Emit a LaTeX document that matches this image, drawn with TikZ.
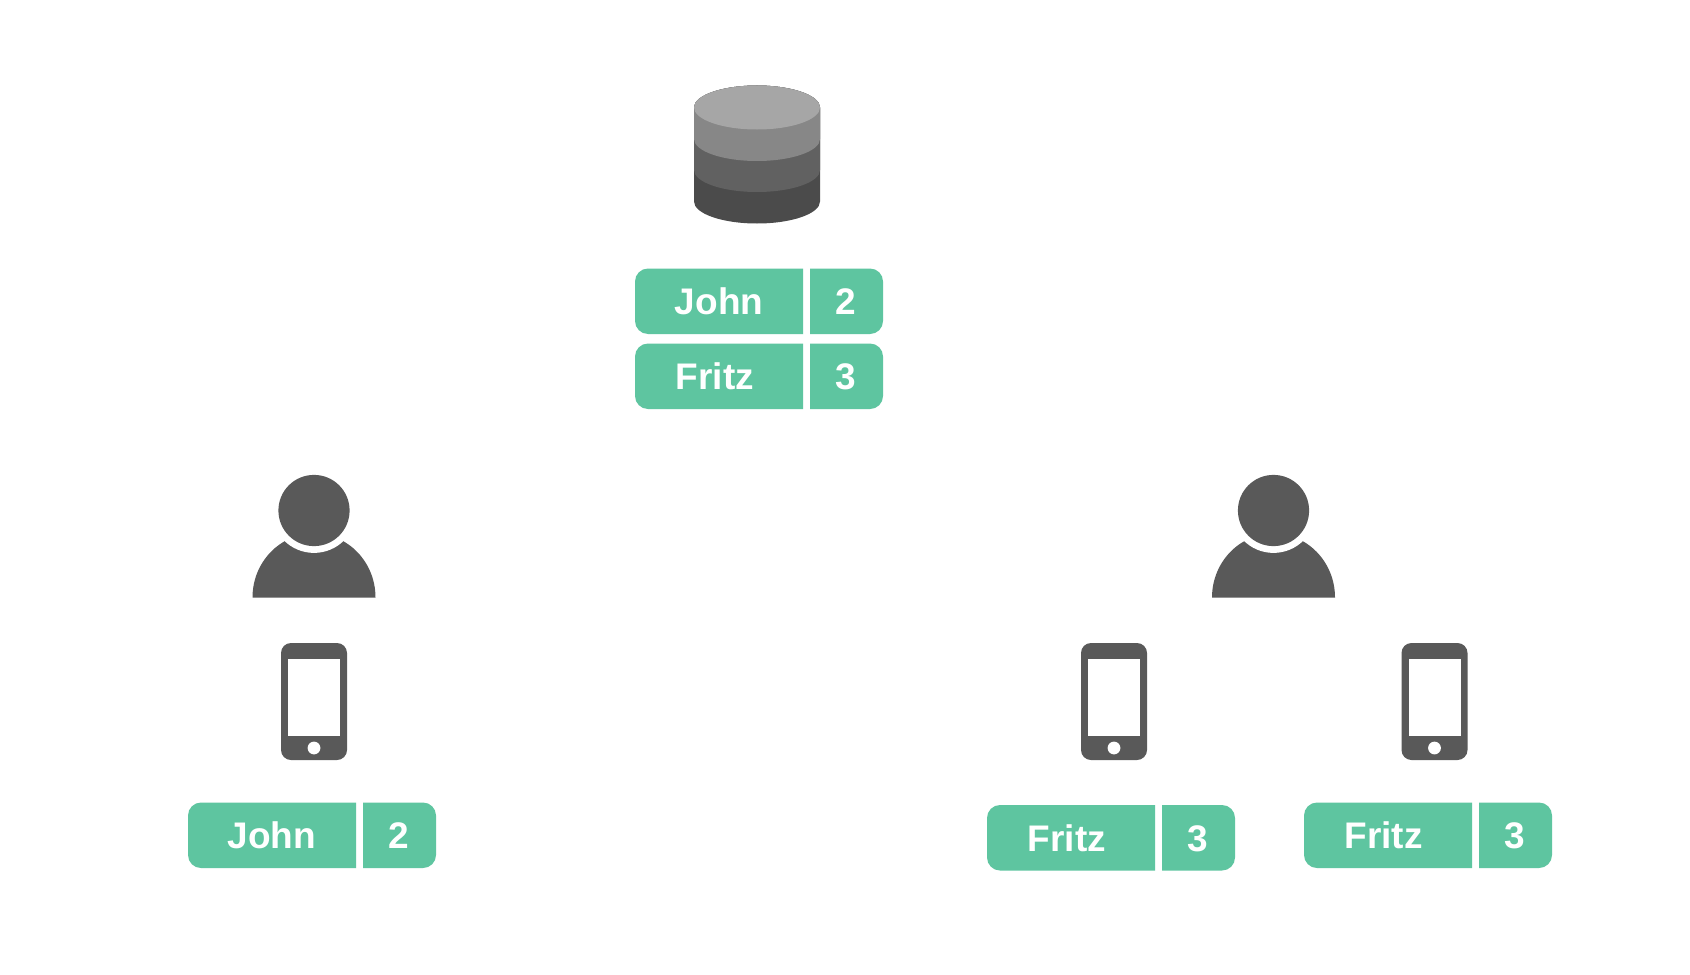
\documentclass[tikz,border=0pt]{standalone}
\usepackage{fontspec}
\setmainfont{Liberation Sans}
\definecolor{rowgreen}{HTML}{5EC5A0}
\definecolor{icongray}{HTML}{595959}
\definecolor{dbA}{HTML}{A6A6A6}
\definecolor{dbB}{HTML}{878787}
\definecolor{dbC}{HTML}{616161}
\definecolor{dbD}{HTML}{4B4B4B}
\tikzset{
  rowfill/.style={fill=rowgreen},
  rowtext/.style={text=white,font=\fontsize{18.5pt}{20pt}\selectfont\bfseries,anchor=base,inner sep=0pt},
  iconfill/.style={fill=icongray}
}
% #1 x, #2 y, #3 name, #4 label, #5 label offset, #6 digit
\newcommand{\tablerow}[6]{%
  \fill[rowfill] (#1+168,#2) [rounded corners=6.5pt] -- (#1,#2) -- (#1,#2+65.5) [sharp corners] -- (#1+168,#2+65.5) -- cycle;
  \fill[rowfill] (#1+175,#2) [rounded corners=6.5pt] -- (#1+248,#2) -- (#1+248,#2+65.5) [sharp corners] -- (#1+175,#2+65.5) -- cycle;
  \node[rowtext] (#3label) at (#1+#5,#2+46) {#4};
  \node[rowtext] (#3num) at (#1+210.5,#2+46) {#6};
}
\newcommand{\person}[2]{%
  \begin{scope}
    \clip (#1-70,#2-80) rectangle (#1+70,#2+87);
    \fill[iconfill] (#1-61.5,#2+87) arc (180:0:30.75pt and 32pt) -- cycle;
  \end{scope}
  \fill[white] (#1,#2) circle (21.2pt);
  \fill[iconfill] (#1,#2) circle (17.8pt);
}
\newcommand{\phone}[2]{%
  \fill[iconfill,rounded corners=5pt] (#1-33,#2) rectangle (#1+33,#2+117);
  \fill[white] (#1-26,#2+16) rectangle (#1+26,#2+93);
  \fill[white] (#1,#2+105) circle (3.2pt);
}
\begin{document}
\begin{tikzpicture}[x=0.5pt,y=-0.5pt]
\useasboundingbox[fill=white] (0,0) rectangle (1690,974);
% database
\fill[dbD] (694,201.5) -- (694,107.5) arc (180:0:31.5pt and 11pt) -- (820,201.5) arc (0:-180:31.5pt and 11pt) -- cycle;
\fill[dbC] (694,170) -- (694,107.5) arc (180:0:31.5pt and 11pt) -- (820,170) arc (0:-180:31.5pt and 11pt) -- cycle;
\fill[dbB] (694,139) -- (694,107.5) arc (180:0:31.5pt and 11pt) -- (820,139) arc (0:-180:31.5pt and 11pt) -- cycle;
\fill[dbA] (757,107.5) ellipse (31.5pt and 11pt);
% top table
\tablerow{635}{268.5}{topjohn}{John}{84}{2}
\tablerow{635}{343.5}{topfritz}{Fritz}{80}{3}
% people
\person{314}{510.5}
\person{1273.5}{510.5}
% phones
\phone{314}{643}
\phone{1114}{643}
\phone{1434.5}{643}
% lower tables
\tablerow{188}{802.5}{leftjohn}{John}{84}{2}
\tablerow{987}{805}{midfritz}{Fritz}{80}{3}
\tablerow{1304}{802.5}{rightfritz}{Fritz}{79.5}{3}
\end{tikzpicture}
\end{document}
